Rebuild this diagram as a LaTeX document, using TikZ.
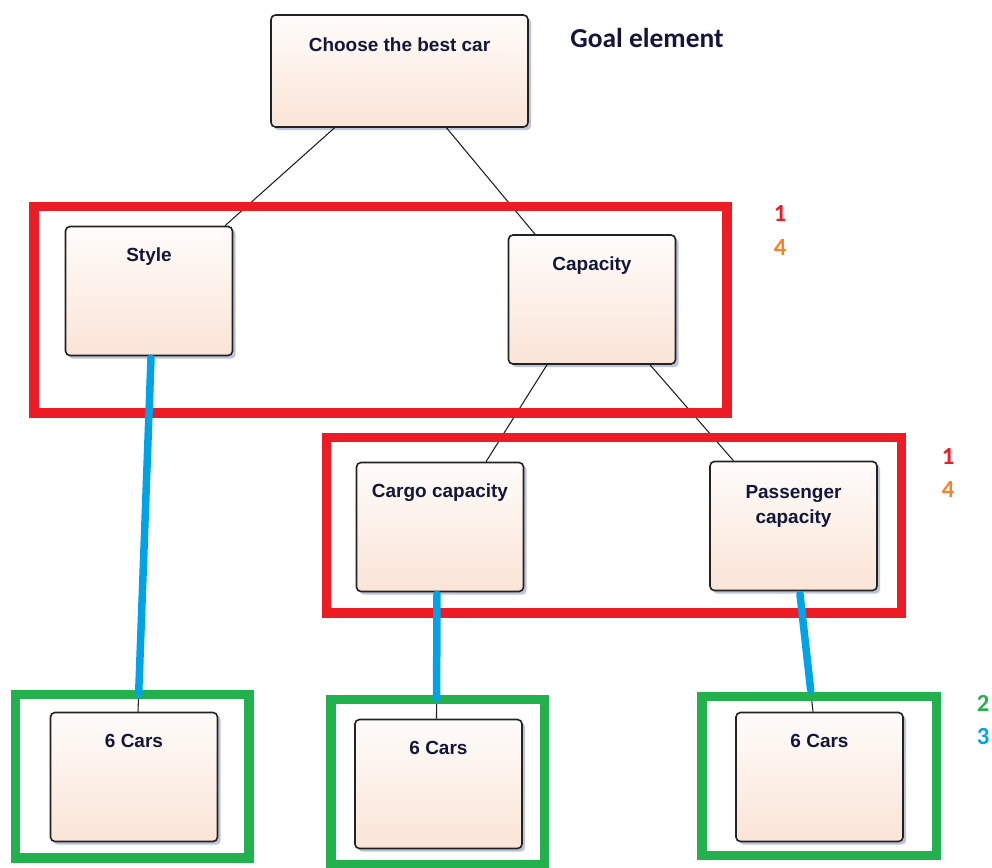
\documentclass[tikz,border=0pt]{standalone}
\usepackage{fontspec}
\setmainfont{Liberation Sans}
\newfontfamily\calibfont{Carlito}
\usetikzlibrary{shadows,calc}

\definecolor{boxtop}{HTML}{FEFCFA}
\definecolor{boxbot}{HTML}{FAE4D7}
\definecolor{boxline}{HTML}{222222}
\definecolor{shadowc}{HTML}{BCC4D6}
\definecolor{txt}{HTML}{12163A}
\definecolor{linec}{HTML}{1E1E1E}
\definecolor{pred}{HTML}{ED1C24}
\definecolor{porange}{HTML}{FF7F27}
\definecolor{pgreen}{HTML}{22B14C}
\definecolor{pblue}{HTML}{00A2E8}

\begin{document}
\begin{tikzpicture}[x=0.02cm,y=-0.02cm,
  elem/.style={draw=boxline, line width=0.9pt, rounded corners=2.5pt,
    top color=boxtop, bottom color=boxbot,
    minimum width=3.34cm, minimum height=2.58cm, inner sep=0pt,
    drop shadow={shadow xshift=1.8pt, shadow yshift=-1.8pt, fill=shadowc, opacity=1}},
  caption/.style={font=\bfseries\fontsize{10.8}{14}\selectfont, text=txt,
    anchor=north, inner sep=0pt, align=center},
  link/.style={draw=linec, line width=0.6pt},
  hilite/.style={draw=pblue, line width=0.15cm, line cap=round},
  frame/.style={line width=0.19cm},
  num/.style={font=\calibfont\bfseries\fontsize{14}{16}\selectfont, inner sep=0pt},
]
\useasboundingbox[fill=white] (0,0) rectangle (992,867);

% element boxes
\node[elem, minimum width=5.14cm, minimum height=2.24cm] (goal) at (399.5,71) {};
\node[elem] (style)  at (149,291) {};
\node[elem] (capac)  at (592,299.5) {};
\node[elem] (cargo)  at (440,527) {};
\node[elem] (pass)   at (793.5,526) {};
\node[elem] (carsL)  at (134,777) {};
\node[elem] (carsM)  at (438.5,784) {};
\node[elem] (carsR)  at (819.5,777) {};

% box titles
\node[caption] (goalT)  at ([yshift=-0.46cm]goal.north)  {Choose the best car};
\node[caption] (styleT) at ([yshift=-0.44cm]style.north) {Style};
\node[caption] (capacT) at ([yshift=-0.44cm]capac.north) {Capacity};
\node[caption] (cargoT) at ([yshift=-0.44cm]cargo.north) {Cargo capacity};
\node[caption] (passT)  at ([yshift=-0.49cm]pass.north)  {Passenger\\capacity};
\node[caption] (carsLT) at ([yshift=-0.44cm]carsL.north) {6 Cars};
\node[caption] (carsMT) at ([yshift=-0.44cm]carsM.north) {6 Cars};
\node[caption] (carsRT) at ([yshift=-0.44cm]carsR.north) {6 Cars};

% hierarchy connectors
\draw[link] ([xshift=-1.30cm]goal.south) -- ([xshift=1.52cm]style.north);
\draw[link] ([xshift=0.94cm]goal.south) -- ([xshift=-1.14cm]capac.north);
\draw[link] ([xshift=-0.90cm]capac.south) -- ([xshift=0.92cm]cargo.north);
\draw[link] ([xshift=1.16cm]capac.south) -- ([xshift=-1.20cm]pass.north);

\coordinate (sTop) at ([xshift=0.04cm]style.south);
\coordinate (sBot) at ([xshift=0.08cm]carsL.north);
\coordinate (cTop) at ([xshift=-0.06cm]cargo.south);
\coordinate (cBot) at ([xshift=-0.04cm]carsM.north);
\coordinate (pTop) at ([xshift=0.13cm]pass.south);
\coordinate (pBot) at ([xshift=-0.13cm]carsR.north);
\draw[link] (sTop) -- (sBot);
\draw[link] (cTop) -- (cBot);
\draw[link] (pTop) -- (pBot);

% grouping frames
\draw[frame, pred] (34,206.5) rectangle (727,413);
\draw[frame, pred] (326.5,437.5) rectangle (901.5,613);
\draw[frame, pgreen] (15.5,694.5) rectangle (249,858);
\draw[frame, pgreen] (331,699.5) rectangle (544.5,865);
\draw[frame, pgreen] (702,696.5) rectangle (936.5,855.5);

% highlighted links
\draw[hilite] ([yshift=-0.04cm]sTop) -- ($(sTop)!0.95!(sBot)$);
\draw[hilite] ([yshift=-0.04cm]cTop) -- ($(cTop)!0.84!(cBot)$);
\draw[hilite] ([yshift=-0.06cm]pTop) -- ($(pTop)!0.82!(pBot)$);

% annotations
\node[font=\calibfont\bfseries\fontsize{15.6}{18}\selectfont, text=txt] (goalLbl) at (647,38) {Goal element};
\node[num, text=pred]    (n1a) at (780,213.5) {1};
\node[num, text=porange] (n4a) at (780,247.5) {4};
\node[num, text=pred]    (n1b) at (948,457) {1};
\node[num, text=porange] (n4b) at (948,490) {4};
\node[num, text=pgreen]  (n2)  at (983,703) {2};
\node[num, text=pblue]   (n3)  at (983,737) {3};
\end{tikzpicture}
\end{document}
